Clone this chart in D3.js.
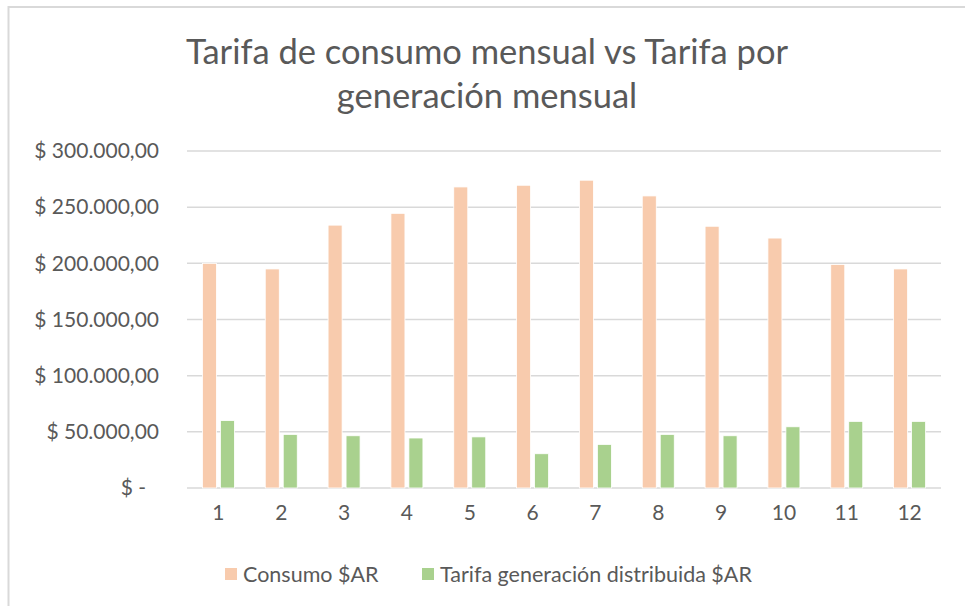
<!DOCTYPE html>
<html>
<head>
<meta charset="utf-8">
<script src="https://cdn.jsdelivr.net/npm/d3@7"></script>
<style>
  body { margin: 0; background: #fff; }
  text { font-family: Lato, "Open Sans", sans-serif; fill: #595959; }
</style>
</head>
<body>
<div id="chart"></div>
<script>
// data
var months = ["1", "2", "3", "4", "5", "6", "7", "8", "9", "10", "11", "12"];
var consumo = [200000, 195000, 234000, 244500, 268000, 269500, 274000, 260000, 233000, 222500, 199000, 195000];
var generacion = [60000, 47700, 46500, 44500, 45500, 30500, 38800, 47700, 46500, 54500, 59300, 59300];
var seriesNames = ["Consumo $AR", "Tarifa generación distribuida $AR"];
var seriesColors = ["#F8CBAD", "#A9D18E"];
var yTicks = [0, 50000, 100000, 150000, 200000, 250000, 300000];

// svg container
var svgWidth = 965, svgHeight = 606;
var margin = { top: 151, left: 187, right: 24, bottom: 118 };
var chartWidth = svgWidth - margin.left - margin.right;
var chartHeight = svgHeight - margin.top - margin.bottom;

var svg = d3.select("#chart").append("svg").attr("width", svgWidth).attr("height", svgHeight);

// outer border (only top and left visible)
svg.append("rect")
    .attr("x", 8.5).attr("y", 7)
    .attr("width", 1000).attr("height", 700)
    .attr("fill", "none").attr("stroke", "#d9d9d9").attr("stroke-width", 2);

// title
svg.append("text").attr("x", 487).attr("y", 64).attr("text-anchor", "middle")
    .attr("font-size", "34.5px").text("Tarifa de consumo mensual vs Tarifa por");
svg.append("text").attr("x", 487).attr("y", 108).attr("text-anchor", "middle")
    .attr("font-size", "34.5px").text("generación mensual");

var chartGroup = svg.append("g").attr("transform", `translate(${margin.left}, ${margin.top})`);

// scales
var x0 = d3.scaleBand().domain(months).range([0, chartWidth]).padding(0);
var groupW = 32;
var x1 = d3.scaleBand().domain([0, 1]).range([0, groupW]).paddingInner(0.22);
var yScale = d3.scaleLinear().domain([0, 300000]).range([chartHeight, 0]);

// gridlines
chartGroup.selectAll(".grid").data(yTicks).enter().append("line")
    .attr("x1", 0).attr("x2", chartWidth)
    .attr("y1", d => yScale(d)).attr("y2", d => yScale(d))
    .attr("stroke", "#d9d9d9").attr("stroke-width", 1.5);

// y labels
var fmt = function(d) {
    if (d === 0) return "$ -";
    var s = d3.format(",.2f")(d).replace(/,/g, "#").replace(".", ",").replace(/#/g, ".");
    return "$ " + s;
};
var yAxis = d3.axisLeft(yScale).tickValues(yTicks).tickFormat(fmt).tickSize(0).tickPadding(28);
var yg = chartGroup.append("g").call(yAxis);
yg.select(".domain").remove();
yg.selectAll("text").attr("font-size", "21px").attr("font-family", "Lato, sans-serif").attr("fill", "#595959")
    .attr("dx", d => d === 0 ? "-13px" : 0);

// x labels
var xAxis = d3.axisBottom(x0).tickSize(0).tickPadding(17);
var xg = chartGroup.append("g").attr("transform", `translate(0, ${chartHeight})`).call(xAxis);
xg.select(".domain").remove();
xg.selectAll("text").attr("font-size", "21px").attr("font-family", "Lato, sans-serif").attr("fill", "#595959");

// bars
var rows = months.map((m, i) => ({ m: m, vals: [consumo[i], generacion[i]] }));
var groups = chartGroup.selectAll(".grp").data(rows).enter().append("g")
    .attr("transform", d => `translate(${x0(d.m) + (x0.bandwidth() - groupW) / 2}, 0)`);
groups.selectAll("rect").data(d => d.vals).enter().append("rect")
    .attr("x", (d, i) => x1(i))
    .attr("width", x1.bandwidth())
    .attr("y", d => yScale(d))
    .attr("height", d => chartHeight - yScale(d))
    .attr("fill", (d, i) => seriesColors[i])
    .attr("stroke", "#fff").attr("stroke-width", 0.8);

// legend
var legendX = [225, 422];
var legend = svg.selectAll(".leg").data(seriesNames).enter().append("g")
    .attr("transform", (d, i) => `translate(${legendX[i]}, 568)`);
legend.append("rect").attr("width", 12).attr("height", 12).attr("fill", (d, i) => seriesColors[i]);
legend.append("text").attr("x", 18).attr("y", 13.5).attr("font-size", "21.5px").text(d => d);
</script>
</body>
</html>
